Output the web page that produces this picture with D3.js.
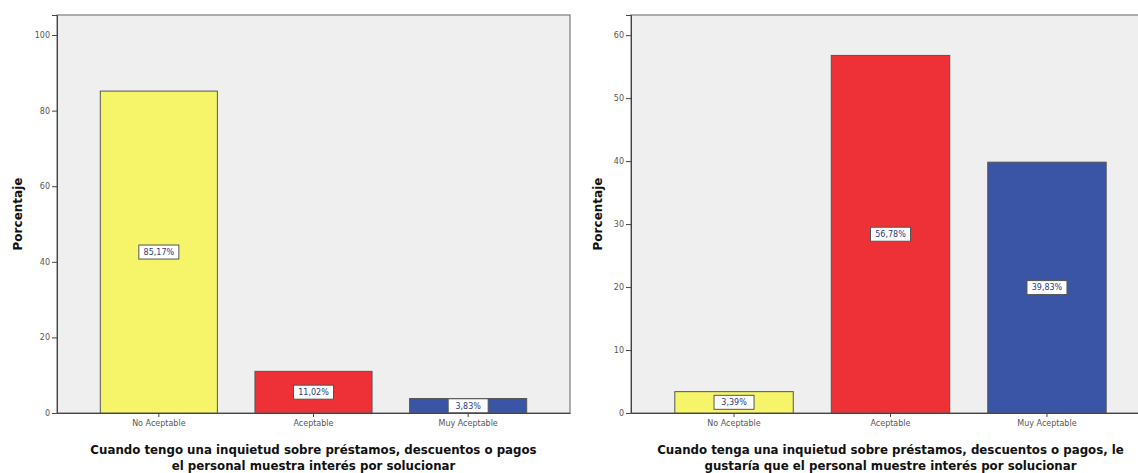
<!DOCTYPE html>
<html>
<head>
<meta charset="utf-8">
<script src="https://cdn.jsdelivr.net/npm/d3@7"></script>
<style>
  html, body { margin: 0; padding: 0; background: #ffffff; }
  svg { display: block; }
</style>
</head>
<body>
<svg id="chart" width="1138" height="473"></svg>
<script>
// ---- data ----
const categories = ["No Aceptable", "Aceptable", "Muy Aceptable"];
const valuesLeft = [85.17, 11.02, 3.83];
const valuesRight = [3.39, 56.78, 39.83];
const ticksLeft = [0, 20, 40, 60, 80, 100];
const ticksRight = [0, 10, 20, 30, 40, 50, 60];
const titleLeft = ["Cuando tengo una inquietud sobre préstamos, descuentos o pagos", "el personal muestra interés por solucionar"];
const titleRight = ["Cuando tenga una inquietud sobre préstamos, descuentos o pagos, le", "gustaría que el personal muestre interés por solucionar"];
const yLabel = "Porcentaje";
const barColors = ["#f6f56a", "#ee3136", "#3b55a6"];

const svg = d3.select("#chart");

function panel(opts) {
  const { x0, x1, y0, y1, values, ticks, yMax, title, ylabX } = opts;
  const g = svg.append("g");
  // plot background
  g.append("rect").attr("x", x0).attr("y", y0).attr("width", x1 - x0).attr("height", y1 - y0)
    .attr("fill", "#efefef").attr("stroke", "#7a7a7a").attr("stroke-width", 1.2);

  const x = d3.scaleBand().domain(categories).range([x0, x1]).paddingInner(0.243).paddingOuter(0.28);
  const y = d3.scaleLinear().domain([0, yMax]).range([y1, y0]);

  g.selectAll("rect.bar").data(values).join("rect").attr("class", "bar")
    .attr("x", (d, i) => x(categories[i]))
    .attr("y", d => y(d))
    .attr("width", x.bandwidth())
    .attr("height", d => y(0) - y(d))
    .attr("fill", (d, i) => barColors[i])
    .attr("stroke", "#555").attr("stroke-width", 1);

  // y axis
  const ya = g.append("g").attr("transform", `translate(${x0},0)`)
    .call(d3.axisLeft(y).tickValues(ticks).tickSize(5).tickPadding(2));
  ya.select(".domain").attr("stroke", "#444");
  ya.selectAll(".tick line").attr("stroke", "#444");
  ya.selectAll(".tick text").attr("fill", "#555").style("font", "8px 'DejaVu Sans'");

  // x axis
  const xa = g.append("g").attr("transform", `translate(0,${y1})`)
    .call(d3.axisBottom(x).tickSize(4).tickPadding(3).tickSizeOuter(0));
  xa.select(".domain").attr("stroke", "#444");
  xa.selectAll(".tick line").attr("stroke", "#444");
  xa.selectAll(".tick text").attr("fill", "#555").style("font", "8px 'DejaVu Sans'");

  // data labels
  const lbl = g.selectAll("g.lbl").data(values).join("g").attr("class", "lbl")
    .attr("transform", (d, i) => `translate(${x(categories[i]) + x.bandwidth() / 2},${(y(d) + y(0)) / 2})`);
  lbl.append("rect").attr("x", -20).attr("y", -7).attr("width", 40).attr("height", 14)
    .attr("fill", "#ffffff").attr("stroke", "#555").attr("stroke-width", 1);
  lbl.append("text").attr("text-anchor", "middle").attr("dy", "0.35em")
    .attr("fill", "#2d3a7a").style("font", "8px 'DejaVu Sans'")
    .text(d => d.toFixed(2).replace(".", ",") + "%");

  // y label
  g.append("text").attr("transform", `translate(${ylabX},${(y0 + y1) / 2}) rotate(-90)`)
    .attr("text-anchor", "middle").attr("dy", "0.35em")
    .style("font", "bold 12px 'DejaVu Sans'").attr("fill", "#111").text(yLabel);

  // x title
  const cx = (x0 + x1) / 2;
  title.forEach((t, i) => {
    g.append("text").attr("x", cx).attr("y", 454 + i * 16).attr("text-anchor", "middle")
      .style("font", "bold 11.8px 'DejaVu Sans'").attr("fill", "#111").text(t);
  });
}

panel({ x0: 57, x1: 570, y0: 15, y1: 413, values: valuesLeft, ticks: ticksLeft, yMax: 105.3, title: titleLeft, ylabX: 18 });
panel({ x0: 631, x1: 1150, y0: 15, y1: 413, values: valuesRight, ticks: ticksRight, yMax: 63.2, title: titleRight, ylabX: 598 });
</script>
</body>
</html>
